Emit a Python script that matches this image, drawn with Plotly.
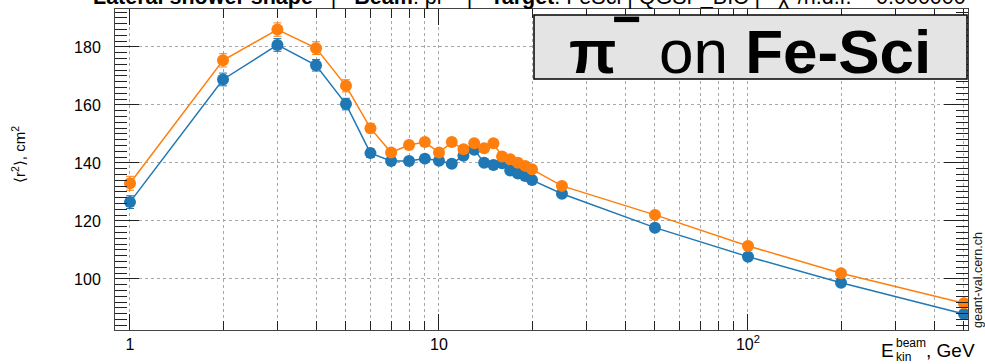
import plotly.graph_objects as go

# Beam kinetic energies (GeV)
energies = [1, 2, 3, 4, 5, 6, 7, 8, 9, 10, 11, 12, 13, 14, 15, 16, 17, 18, 19, 20,
            25, 50, 100, 200, 500]

# Mean squared shower radius <r^2> (cm^2), two series
r2_blue = [126.5, 168.8, 180.7, 173.7, 160.3, 143.4, 140.7, 140.7, 141.5, 140.8,
           139.7, 142.5, 144.6, 140.1, 139.3, 139.9, 137.4, 136.4, 135.5, 134.1,
           129.4, 117.7, 107.7, 98.7, 87.9]
r2_orange = [133.0, 175.4, 186.0, 179.6, 166.6, 152.0, 143.6, 146.2, 147.2, 143.6,
             147.2, 144.7, 146.8, 145.1, 146.8, 142.2, 141.3, 140.1, 139.0, 137.8,
             132.1, 122.1, 111.4, 102.0, 91.6]

# Statistical uncertainties
err_blue = [2.2, 2.2, 2.2, 2.0, 2.0, 1.5, 1.2, 1.2, 1.2, 1.2, 1.2, 1.2, 1.2, 1.2,
            1.2, 1.2, 1.2, 1.2, 1.2, 1.2, 1.0, 1.0, 1.0, 1.0, 1.0]
err_orange = [2.4, 2.3, 2.3, 2.2, 2.1, 1.6, 1.3, 1.3, 1.3, 1.3, 1.3, 1.3, 1.3, 1.3,
              1.3, 1.3, 1.3, 1.3, 1.3, 1.3, 1.0, 1.0, 1.0, 1.0, 1.0]

x_major = [1, 10, 100]
x_major_text = ["1", "10", "10<sup>2</sup>"]
x_minor = [2, 3, 4, 5, 6, 7, 8, 9, 20, 30, 40, 50, 60, 70, 80, 90, 200, 300, 400, 500]

BLUE = "#1f77b4"
ORANGE = "#ff7f0e"
FONT = "Liberation Sans, Arial, sans-serif"

# plot-area geometry in pixels, used to place paper-anchored labels
L, R, T, B = 115, 968, 9, 330


def px(x):
    return (x - L) / (R - L)


def py(y):
    return (B - y) / (B - T)


fig = go.Figure()
for vals, errs, col in [(r2_blue, err_blue, BLUE), (r2_orange, err_orange, ORANGE)]:
    fig.add_trace(go.Scatter(
        x=energies, y=vals, mode="lines+markers",
        line=dict(color=col, width=1.5),
        marker=dict(color=col, size=12, symbol="circle"),
        error_y=dict(type="data", array=errs, color=col, thickness=1, width=4),
        showlegend=False,
    ))

grid_col = "#a8a8a8"
fig.update_xaxes(
    type="log", range=[-0.0485, 2.712],
    tickmode="array", tickvals=x_major, ticktext=x_major_text,
    ticks="inside", ticklen=16, tickcolor="#222", tickwidth=1,
    showline=True, linecolor="#444", linewidth=1, mirror="ticks",
    showgrid=True, gridcolor=grid_col, griddash="dot", gridwidth=1,
    minor=dict(tickmode="array", tickvals=x_minor, ticks="inside", ticklen=9,
               tickcolor="#222", showgrid=True, gridcolor=grid_col, griddash="dot",
               gridwidth=1),
    tickfont=dict(family=FONT, size=16, color="black"),
    zeroline=False,
)
fig.update_yaxes(
    range=[82.4, 193.1], tick0=0, dtick=20,
    ticks="inside", ticklen=24, tickcolor="#222", tickwidth=1,
    showline=True, linecolor="#444", linewidth=1, mirror="ticks",
    showgrid=True, gridcolor=grid_col, griddash="dot", gridwidth=1,
    minor=dict(dtick=2, ticks="inside", ticklen=12, tickcolor="#222", showgrid=False),
    tickfont=dict(family=FONT, size=16, color="black"),
    ticklabelstandoff=10,
    zeroline=False,
)

# Label box in the upper right
fig.add_shape(type="rect", xref="paper", yref="paper",
              x0=px(534), x1=px(967), y0=py(79), y1=py(15),
              fillcolor="#e4e4e4", line=dict(color="black", width=1.5), layer="above")

HIDDEN = "<span style='color:rgba(0,0,0,0)'>−</span>"
annotations = [
    dict(text="<b>π</b><sup>" + HIDDEN + "</sup> on <b>Fe-Sci</b>", x=px(750), y=py(47),
         xanchor="center", yanchor="middle", font=dict(family=FONT, size=62, color="black")),
    # charge sign of the beam particle, raised high beside the π
    dict(text="<b>−</b>", x=px(626), y=py(19), xanchor="center", yanchor="middle",
         font=dict(family=FONT, size=50, color="black")),
    dict(text="<b>Lateral shower shape</b>   |   <b>Beam</b>: pi-   |   <b>Target</b>: FeSci | QGSP_BIC |   "
              "χ<sup>2</sup>/n.d.f. = 0.000000",
         x=px(529), y=py(11), xanchor="center", yanchor="bottom",
         font=dict(family=FONT, size=21.5, color="black")),
    dict(text="⟨r<sup>2</sup>⟩, cm<sup>2</sup>", x=px(18), y=py(155), xanchor="center",
         yanchor="middle", textangle=-90, font=dict(family=FONT, size=15, color="black")),
    dict(text="geant-val.cern.ch", x=px(978), y=0.0, xanchor="center", yanchor="bottom",
         textangle=-90, font=dict(family=FONT, size=12.5, color="#222")),
    dict(text="E", x=px(879), y=py(351), xanchor="left", yanchor="middle",
         font=dict(family=FONT, size=19, color="black")),
    dict(text="beam", x=px(894), y=py(343), xanchor="left", yanchor="middle",
         font=dict(family=FONT, size=12, color="black")),
    dict(text="kin", x=px(894), y=py(357), xanchor="left", yanchor="middle",
         font=dict(family=FONT, size=12, color="black")),
    dict(text=", GeV", x=px(924), y=py(351), xanchor="left", yanchor="middle",
         font=dict(family=FONT, size=19, color="black")),
]
for a in annotations:
    a.update(xref="paper", yref="paper", showarrow=False)
    fig.add_annotation(**a)

fig.update_layout(
    width=985, height=364,
    margin=dict(l=L, r=985 - R, t=T, b=364 - B),
    paper_bgcolor="white", plot_bgcolor="white",
    font=dict(family=FONT),
)

fig.write_html("out.html")
